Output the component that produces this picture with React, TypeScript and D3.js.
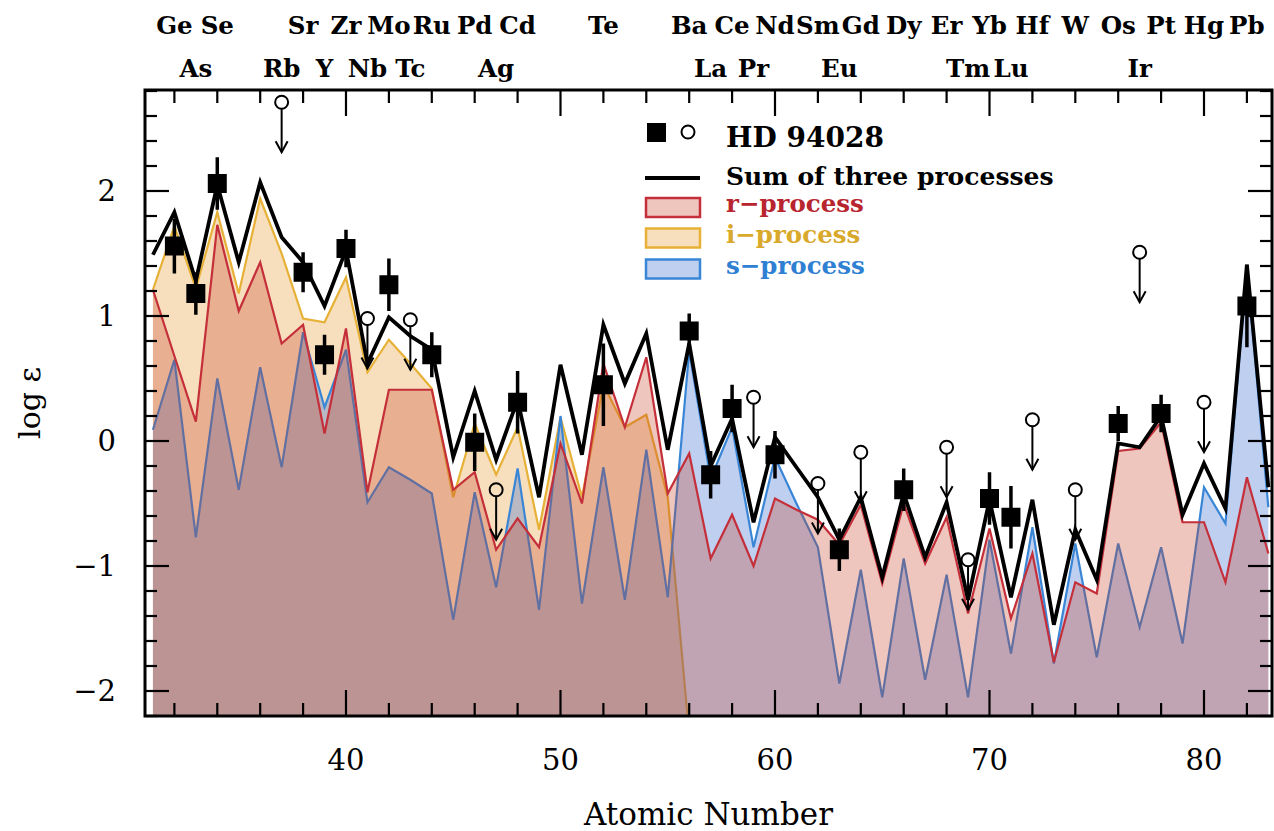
import React from "react";
import * as d3 from "d3";

// ---------- data ----------
const atomicNumbers = [31,32,33,34,35,36,37,38,39,40,41,42,43,44,45,46,47,48,49,50,51,52,53,54,55,56,57,58,59,60,61,62,63,64,65,66,67,68,69,70,71,72,73,74,75,76,77,78,79,80,81,82,83];
const sumProcess = [1.49,1.83,1.28,2.05,1.43,2.07,1.63,1.43,1.08,1.53,0.62,0.99,0.84,0.73,-0.13,0.40,-0.15,0.33,-0.45,0.61,-0.11,0.93,0.46,0.86,-0.07,0.78,-0.20,0.18,-0.65,0.03,-0.21,-0.45,-0.79,-0.45,-1.09,-0.42,-0.93,-0.49,-1.27,-0.47,-1.25,-0.47,-1.47,-0.71,-1.11,-0.02,-0.05,0.20,-0.59,-0.18,-0.54,1.41,-0.37];
const rProcess = [1.21,0.68,0.155,1.73,1.04,1.43,0.78,0.93,0.06,0.90,-0.41,0.41,0.41,0.41,-0.39,-0.25,-0.87,-0.62,-0.85,-0.02,-0.50,0.62,0.11,0.67,-0.42,-0.10,-0.94,-0.59,-1.00,-0.46,-0.55,-0.63,-0.83,-0.51,-1.14,-0.50,-0.98,-0.61,-1.38,-0.70,-1.42,-0.90,-1.77,-1.13,-1.22,-0.08,-0.06,0.15,-0.65,-0.65,-1.13,-0.29,-0.90];
const sProcess = [0.09,0.65,-0.77,0.50,-0.39,0.59,-0.21,0.87,0.27,0.73,-0.49,-0.21,-0.31,-0.42,-1.43,-0.41,-1.17,-0.22,-1.35,0.20,-1.30,-0.21,-1.27,-0.07,-1.25,0.72,-0.30,0.11,-0.85,-0.13,-0.50,-0.85,-1.94,-1.03,-2.05,-0.94,-1.91,-1.07,-2.05,-0.79,-1.70,-0.69,-1.78,-0.82,-1.73,-0.82,-1.49,-0.85,-1.62,-0.37,-0.66,1.39,-0.53];
const iProcessZ = [31,32,33,34,35,36,37,38,39,40,41,42,43,44,45,46,47,48,49,50,51,52,53,54,55,56];
const iProcess = [1.21,1.72,1.22,1.83,1.18,1.94,1.50,0.98,0.95,1.31,0.55,0.81,0.62,0.42,-0.45,0.14,-0.27,0.11,-0.71,0.19,-0.45,0.45,0.11,0.21,-0.45,-2.35];

const detZ = [32,33,34,38,39,40,42,44,46,48,52,56,57,58,60,63,66,70,71,76,78,82];
const detLogEps = [1.56,1.18,2.06,1.35,0.69,1.54,1.25,0.69,-0.01,0.31,0.45,0.88,-0.27,0.26,-0.11,-0.87,-0.39,-0.46,-0.61,0.14,0.22,1.08];
const detErr = [0.22,0.17,0.21,0.16,0.16,0.15,0.21,0.18,0.23,0.25,0.33,0.14,0.19,0.19,0.19,0.17,0.17,0.21,0.25,0.14,0.15,0.33];

const limZ = [37,41,43,47,59,62,64,68,69,72,74,77,80];
const limLogEps = [2.71,0.98,0.97,-0.39,0.35,-0.34,-0.09,-0.05,-0.95,0.17,-0.39,1.51,0.31];

const topRowLabels = ["Ge","Se","Sr","Zr","Mo","Ru","Pd","Cd","Te","Ba","Ce","Nd","Sm","Gd","Dy","Er","Yb","Hf","W","Os","Pt","Hg","Pb"];
const topRowZ = [32,34,38,40,42,44,46,48,52,56,58,60,62,64,66,68,70,72,74,76,78,80,82];
const bottomRowLabels = ["As","Rb","Y","Nb","Tc","Ag","La","Pr","Eu","Tm","Lu","Ir"];
const bottomRowZ = [33,37,39,41,43,47,57,59,63,69,71,77];

const xTickLabels = [40, 50, 60, 70, 80];
const yTickLabels = [-2, -1, 0, 1, 2];

// ---------- styles ----------
const FONT = "DejaVu Serif";
const R_STROKE = "#c42f3a";
const R_FILL = "rgba(195,60,30,0.29)";
const I_STROKE = "#e6b136";
const I_FILL = "rgba(230,150,40,0.30)";
const S_STROKE = "#3a86d6";
const S_FILL = "rgba(60,110,210,0.33)";

export default function App() {
  const W = 1274, H = 831;
  const L = 145, R = 1272, T = 90, B = 716;
  const x = d3.scaleLinear().domain([30.63, 83.17]).range([L, R]);
  const y = d3.scaleLinear().domain([-2.2, 2.808]).range([B, T]);

  const pts = (zs: number[], vs: number[]) => zs.map((z, i) => [z, vs[i]] as [number, number]);
  const area = d3.area<[number, number]>().x(d => x(d[0])).y0(B).y1(d => y(d[1]));
  const line = d3.line<[number, number]>().x(d => x(d[0])).y(d => y(d[1]));

  const sumPts = pts(atomicNumbers, sumProcess);
  const rPts = pts(atomicNumbers, rProcess);
  const sPts = pts(atomicNumbers, sProcess);
  const iPts = pts(iProcessZ, iProcess);

  const xMinor = d3.range(32, 84, 2);
  const yMinor = d3.range(-22, 29, 2).map(v => v / 10);

  const limitMarker = (z: number, v: number, k: number) => {
    const cx = x(z), cy = y(v);
    const tip = cy + 50;
    return (
      <g key={"lim" + k} stroke="#000" strokeWidth={2} fill="none">
        <circle cx={cx} cy={cy} r={6.5} />
        <line x1={cx} y1={cy + 6.5} x2={cx} y2={tip} />
        <polyline points={`${cx - 6},${tip - 11} ${cx},${tip} ${cx + 6},${tip - 11}`} />
      </g>
    );
  };

  return (
    <div style={{ position: "absolute", left: 0, top: 0 }}>
      <svg width={W} height={H} viewBox={`0 0 ${W} ${H}`} style={{ display: "block", background: "#fff" }}>
        <defs>
          <clipPath id="plotClip">
            <rect x={L} y={T} width={R - L} height={B - T} />
          </clipPath>
        </defs>
        <g clipPath="url(#plotClip)">
          <path d={area(iPts) || ""} fill={I_FILL} stroke="none" />
          <path d={line(iPts) || ""} fill="none" stroke={I_STROKE} strokeWidth={2.2} />
          <path d={area(sPts) || ""} fill={S_FILL} stroke="none" />
          <path d={line(sPts) || ""} fill="none" stroke={S_STROKE} strokeWidth={2.2} />
          <path d={area(rPts) || ""} fill={R_FILL} stroke="none" />
          <path d={line(rPts) || ""} fill="none" stroke={R_STROKE} strokeWidth={2.2} />
          <path d={line(sumPts) || ""} fill="none" stroke="#000" strokeWidth={3.8} strokeLinejoin="miter" />
          {detZ.map((z, i) => (
            <line key={"err" + i} x1={x(z)} x2={x(z)} y1={y(detLogEps[i] - detErr[i])} y2={y(detLogEps[i] + detErr[i])} stroke="#000" strokeWidth={3.5} />
          ))}
          {detZ.map((z, i) => (
            <rect key={"sq" + i} x={x(z) - 9.5} y={y(detLogEps[i]) - 9.5} width={19} height={19} fill="#000" />
          ))}
          {limZ.map((z, i) => limitMarker(z, limLogEps[i], i))}
        </g>

        {/* ticks */}
        <g stroke="#000" strokeWidth={2.2}>
          {xMinor.map(z => {
            const len = z % 10 === 0 ? 26 : 13;
            return (
              <g key={"xt" + z}>
                <line x1={x(z)} x2={x(z)} y1={B} y2={B - len} />
                <line x1={x(z)} x2={x(z)} y1={T} y2={T + len} />
              </g>
            );
          })}
          {yMinor.map(v => {
            const len = Math.abs(v - Math.round(v)) < 1e-6 ? 24 : 12;
            return (
              <g key={"yt" + v}>
                <line x1={L} x2={L + len} y1={y(v)} y2={y(v)} />
                <line x1={R} x2={R - len} y1={y(v)} y2={y(v)} />
              </g>
            );
          })}
        </g>
        <rect x={L} y={T} width={R - L} height={B - T} fill="none" stroke="#000" strokeWidth={3} />

        {/* tick labels */}
        <g fontFamily={FONT} fontSize={29} fill="#000">
          {xTickLabels.map(v => (
            <text key={"xl" + v} x={x(v)} y={770} textAnchor="middle">{v}</text>
          ))}
          {yTickLabels.map(v => (
            <text key={"yl" + v} x={116} y={y(v) + 10} textAnchor="end">{v < 0 ? "\u2212" + Math.abs(v) : String(v)}</text>
          ))}
        </g>
        <text x={(L + R) / 2} y={825} textAnchor="middle" fontFamily={FONT} fontSize={31} fill="#000">Atomic Number</text>
        <text transform={`translate(40, ${(T + B) / 2}) rotate(-90)`} textAnchor="middle" fontFamily={FONT} fontSize={30} fill="#000">log ε</text>

        {/* element labels */}
        <g fontFamily={FONT} fontSize={24.5} fontWeight="bold" fill="#000" textAnchor="middle">
          {topRowLabels.map((s, i) => (
            <text key={"tr" + s} x={x(topRowZ[i])} y={34}>{s}</text>
          ))}
          {bottomRowLabels.map((s, i) => (
            <text key={"br" + s} x={x(bottomRowZ[i])} y={77}>{s}</text>
          ))}
        </g>

        {/* legend */}
        <g fontFamily={FONT} fontWeight="bold">
          <rect x={647} y={123} width={19} height={19} fill="#000" />
          <circle cx={688} cy={132} r={6.5} fill="none" stroke="#000" strokeWidth={2} />
          <text x={726} y={147} fontSize={28} fill="#000">HD 94028</text>
          <line x1={645} x2={700} y1={178} y2={178} stroke="#000" strokeWidth={4} />
          <text x={726} y={185} fontSize={25} fill="#000">Sum of three processes</text>
          <rect x={646} y={198} width={54} height={19} fill={R_FILL} stroke={R_STROKE} strokeWidth={2.5} />
          <text x={726} y={212} fontSize={24.5} fill="#b8252f">r−process</text>
          <rect x={646} y={228.5} width={54} height={19} fill={I_FILL} stroke={I_STROKE} strokeWidth={2.5} />
          <text x={726} y={243} fontSize={24.5} fill="#d9a92c">i−process</text>
          <rect x={646} y={259.5} width={54} height={19} fill={S_FILL} stroke={S_STROKE} strokeWidth={2.5} />
          <text x={726} y={274} fontSize={24.5} fill="#2f80d2">s−process</text>
        </g>
      </svg>
    </div>
  );
}
